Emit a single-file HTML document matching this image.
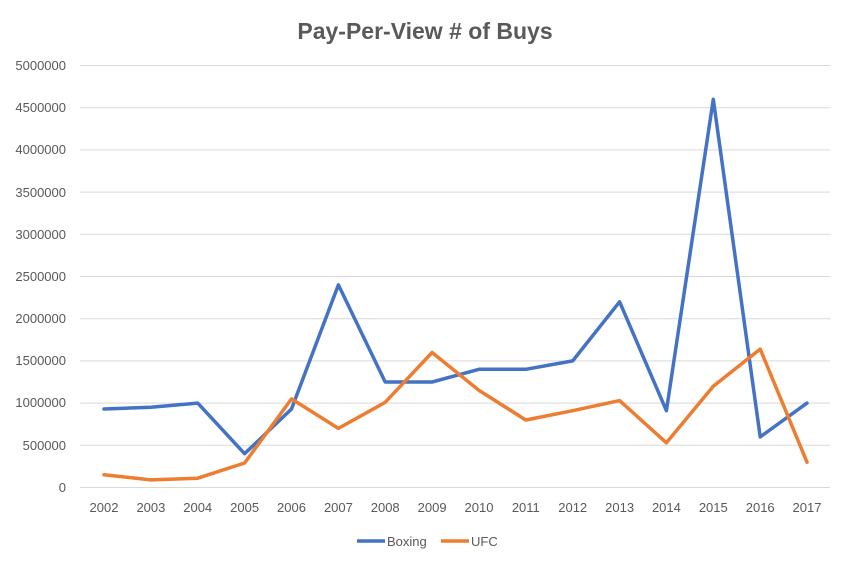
<!DOCTYPE html>
<html><head><style>
body{margin:0;background:#fff;}
svg{display:block;font-family:"Liberation Sans",sans-serif;}
</style></head><body>
<svg width="850" height="566" viewBox="0 0 850 566">
<rect width="850" height="566" fill="#fff"/>
<text x="425" y="39" text-anchor="middle" font-size="23" font-weight="bold" fill="#595959">Pay-Per-View # of Buys</text>
<g stroke="#d9d9d9" stroke-width="1">
<line x1="80" x2="830" y1="65.5" y2="65.5"/>
<line x1="80" x2="830" y1="107.7" y2="107.7"/>
<line x1="80" x2="830" y1="149.9" y2="149.9"/>
<line x1="80" x2="830" y1="192.1" y2="192.1"/>
<line x1="80" x2="830" y1="234.3" y2="234.3"/>
<line x1="80" x2="830" y1="276.5" y2="276.5"/>
<line x1="80" x2="830" y1="318.7" y2="318.7"/>
<line x1="80" x2="830" y1="360.9" y2="360.9"/>
<line x1="80" x2="830" y1="403.1" y2="403.1"/>
<line x1="80" x2="830" y1="445.3" y2="445.3"/>
<line x1="80" x2="830" y1="487.5" y2="487.5"/>
</g>
<g font-size="13" fill="#595959" text-anchor="end">
<text x="66" y="70">5000000</text>
<text x="66" y="112">4500000</text>
<text x="66" y="154">4000000</text>
<text x="66" y="197">3500000</text>
<text x="66" y="239">3000000</text>
<text x="66" y="281">2500000</text>
<text x="66" y="323">2000000</text>
<text x="66" y="365">1500000</text>
<text x="66" y="407">1000000</text>
<text x="66" y="450">500000</text>
<text x="66" y="492">0</text>
</g>
<g font-size="13" fill="#595959" text-anchor="middle">
<text x="104" y="512">2002</text><text x="150.9" y="512">2003</text><text x="197.7" y="512">2004</text><text x="244.6" y="512">2005</text><text x="291.5" y="512">2006</text><text x="338.4" y="512">2007</text><text x="385.2" y="512">2008</text><text x="432.1" y="512">2009</text><text x="479" y="512">2010</text><text x="525.8" y="512">2011</text><text x="572.7" y="512">2012</text><text x="619.6" y="512">2013</text><text x="666.4" y="512">2014</text><text x="713.3" y="512">2015</text><text x="760.2" y="512">2016</text><text x="807" y="512">2017</text>
</g>
<polyline fill="none" stroke="#4472c4" stroke-width="3.5" stroke-linejoin="round" stroke-linecap="round" points="104,409 150.9,407.3 197.7,403.1 244.6,453.7 291.5,409 338.4,284.9 385.2,382 432.1,382 479,369.3 525.8,369.3 572.7,360.9 619.6,301.8 666.4,410.7 713.3,99.3 760.2,436.9 807,403.1"/>
<polyline fill="none" stroke="#ed7d31" stroke-width="3.5" stroke-linejoin="round" stroke-linecap="round" points="104,474.8 150.9,479.9 197.7,478.2 244.6,463 291.5,398.9 338.4,428.4 385.2,402.3 432.1,352.5 479,390.4 525.8,420 572.7,410.7 619.6,400.6 666.4,442.8 713.3,386.2 760.2,349.1 807,462.2"/>
<line x1="357" x2="385" y1="541" y2="541" stroke="#4472c4" stroke-width="3.5"/>
<text x="387" y="546" font-size="13" fill="#595959">Boxing</text>
<line x1="441" x2="469" y1="541" y2="541" stroke="#ed7d31" stroke-width="3.5"/>
<text x="471" y="546" font-size="13" fill="#595959">UFC</text>
</svg>
</body></html>
